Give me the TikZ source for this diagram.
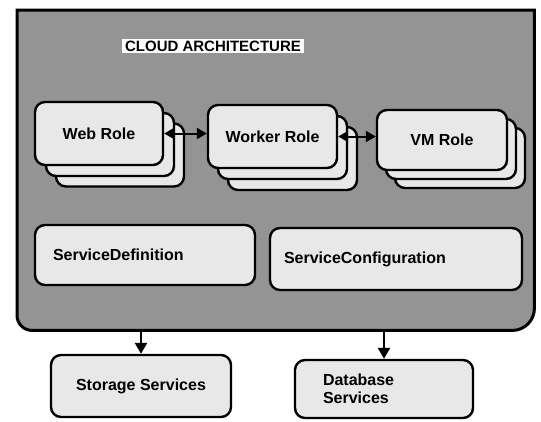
\documentclass[tikz,border=0pt]{standalone}
\usepackage{fontspec}
\setmainfont{Liberation Sans}
\usetikzlibrary{arrows.meta}
\definecolor{cloudgray}{gray}{0.58}
\definecolor{boxfill}{gray}{0.91}
\tikzset{
  lbl/.style={font=\fontsize{16}{18}\selectfont\bfseries},
  rolebox/.style={draw=black, line width=2.4pt, rounded corners=10pt, fill=boxfill,
    minimum height=62pt, inner sep=0pt, lbl},
  svcbox/.style={draw=black, line width=2.4pt, rounded corners=10pt, fill=boxfill,
    inner ysep=0pt, lbl, align=left},
  outbox/.style={draw=black, line width=2.4pt, rounded corners=10pt, fill=boxfill,
    inner ysep=0pt, lbl},
  container/.style={draw=black, line width=3pt, fill=cloudgray},
  biarrow/.style={line width=2pt, {Triangle[length=10pt,width=11pt]}-{Triangle[length=10pt,width=11pt]}},
  downarrow/.style={line width=2.4pt, -{Triangle[length=11pt,width=12pt]}},
  titlebox/.style={fill=white, inner xsep=3pt, inner ysep=2pt, font=\fontsize{15}{17}\selectfont\bfseries}
}
\begin{document}
\begin{tikzpicture}[x=1pt,y=-1pt]
\useasboundingbox[fill=white] (0,0) rectangle (541,421);

% container
\node[minimum width=517pt, minimum height=320pt, inner sep=0pt, anchor=north west] (cloud) at (17,10) {};
\draw[container] (cloud.west) -- (cloud.north west) -- (cloud.north east)
  [rounded corners=22pt] -- (cloud.south east)
  [rounded corners=15pt] -- (cloud.south west) -- cycle;

\node[titlebox] (title) at (213,46) {CLOUD ARCHITECTURE};

% Web Role stack
\node[rolebox, minimum width=128pt, minimum height=63pt] (web3) at (120,155) {};
\node[rolebox, minimum width=128pt, minimum height=63pt] (web2) at (110,144.5) {};
\node[rolebox, minimum width=128pt, minimum height=63pt] (web) at (99,133.5) {Web Role};

% Worker Role stack
\node[rolebox, minimum width=129pt, minimum height=63pt] (worker3) at (292.5,158.5) {};
\node[rolebox, minimum width=129pt, minimum height=63pt] (worker2) at (282.5,147.5) {};
\node[rolebox, minimum width=129pt, minimum height=63pt] (worker) at (272.5,136.5) {Worker Role};

% VM Role stack
\node[rolebox, minimum width=130pt, minimum height=60pt] (vm3) at (460,158) {};
\node[rolebox, minimum width=130pt, minimum height=60pt] (vm2) at (451,149) {};
\node[rolebox, minimum width=130pt, minimum height=60pt] (vm) at (442,140) {VM Role};

\draw[biarrow] (web.east) -- (web.east -| worker.west);
\draw[biarrow] (worker.east) -- (worker.east -| vm.west);

% service boxes
\node[svcbox, minimum width=220pt, minimum height=60pt, inner xsep=18pt, text width=184pt] (sdef) at (145,255) {ServiceDefinition};
\node[svcbox, minimum width=252pt, minimum height=62pt, inner xsep=14pt, text width=224pt] (sconf) at (396,259) {ServiceConfiguration};

% outside boxes
\node[outbox, minimum width=180pt, minimum height=62pt] (storage) at (141,386) {Storage Services};
\node[outbox, minimum width=178pt, minimum height=58pt, inner xsep=28pt, text width=122pt, align=left] (db) at (384,389) {Database\\Services};

\draw[downarrow] (cloud.south -| storage.north) -- (storage.north);
\draw[downarrow] (cloud.south -| db.north) -- (db.north);
\end{tikzpicture}
\end{document}
